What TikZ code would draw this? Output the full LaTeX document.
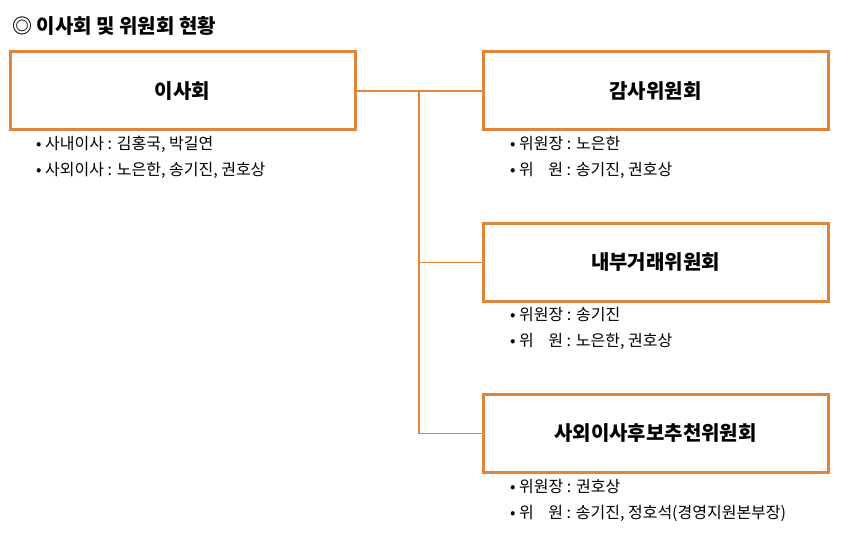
\documentclass[tikz,border=0pt]{standalone}
\usepackage{fontspec}
\setmainfont{Noto Sans CJK KR}
\definecolor{org}{HTML}{E0853A}
\begin{document}
\begin{tikzpicture}[x=1pt,y=-1pt,
 box/.style={draw=org,line width=3pt,minimum width=345pt,minimum height=78pt,font=\fontsize{20}{23}\selectfont\bfseries},
 item/.style={anchor=west,inner sep=0pt,font=\fontsize{16}{18}\selectfont},
 conn/.style={draw=org,line width=1.8pt}]
\useasboundingbox (0,0) rectangle (841,537);
\node[anchor=west,inner sep=0pt,font=\fontsize{20}{23}\selectfont\bfseries] (title) at (12,26) {◎ 이사회 및 위원회 현황};
\node[box] (board) at (182.5,91) {이사회};
\node[box] (audit) at (655.5,91) {감사위원회};
\node[box] (inner) at (655.5,262.5) {내부거래위원회};
\node[box] (nom) at (655.5,433.5) {사외이사후보추천위원회};
\coordinate (j1) at (419,91);
\coordinate (j2) at (419,262.5);
\coordinate (j3) at (419,433.5);
\draw[conn] (board.east) -- (audit.west);
\draw[conn] (j1) -- (j3);
\draw[conn] (j2) -- (inner.west);
\draw[conn] (j3) -- (nom.west);
\node[item] (b1) at (36,144) {• 사내이사 : 김홍국, 박길연};
\node[item] (b2) at (36,170) {• 사외이사 : 노은한, 송기진, 권호상};
\node[item] (a1) at (510,144) {• 위원장 : 노은한};
\node[item] (a2) at (510,170) {• 위\hspace{0.9em}원 : 송기진, 권호상};
\node[item] (i1) at (510,315) {• 위원장 : 송기진};
\node[item] (i2) at (510,341) {• 위\hspace{0.9em}원 : 노은한, 권호상};
\node[item] (n1) at (510,487) {• 위원장 : 권호상};
\node[item] (n2) at (510,513) {• 위\hspace{0.9em}원 : 송기진, 정호석(경영지원본부장)};
\end{tikzpicture}
\end{document}
